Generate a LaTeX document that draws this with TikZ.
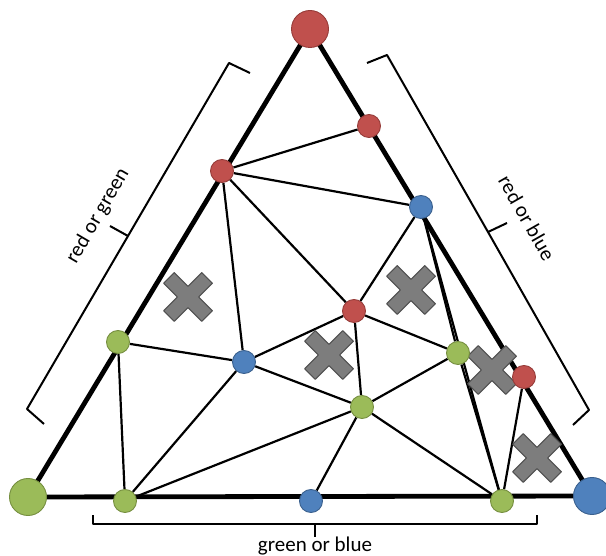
\documentclass[tikz,border=0pt]{standalone}
\usepackage{fontspec}
\setmainfont{Carlito}
\pgfdeclarelayer{bg}
\pgfsetlayers{bg,main}
\definecolor{nred}{RGB}{192,80,77}
\definecolor{nredd}{RGB}{150,60,57}
\definecolor{ngreen}{RGB}{155,187,89}
\definecolor{ngreend}{RGB}{118,143,64}
\definecolor{nblue}{RGB}{79,129,189}
\definecolor{nblued}{RGB}{58,96,142}
\definecolor{xfill}{RGB}{125,125,125}
\definecolor{xline}{RGB}{80,80,80}
\begin{document}
\begin{tikzpicture}[x=1pt,y=-1pt,
  dot/.style={circle,inner sep=0pt,line width=0.9pt},
  bigdot/.style={dot,minimum size=37pt},
  smalldot/.style={dot,minimum size=23pt},
  rd/.style={fill=nred,draw=nredd},
  gr/.style={fill=ngreen,draw=ngreend},
  bl/.style={fill=nblue,draw=nblued},
  thin edge/.style={line width=2.2pt},
  side/.style={line width=4.8pt},
  bracket/.style={line width=2pt,line join=round},
  lab/.style={font=\fontsize{21}{24}\selectfont,inner sep=0pt},
  xcross/.pic={\draw[fill=xfill,draw=xline,line width=1pt,line join=round,rotate=45]
    (7.5,27) -- (7.5,7.5) -- (27,7.5) -- (27,-7.5) -- (7.5,-7.5) -- (7.5,-27)
    -- (-7.5,-27) -- (-7.5,-7.5) -- (-27,-7.5) -- (-27,7.5) -- (-7.5,7.5) -- (-7.5,27) -- cycle;}
]
\useasboundingbox (0,0) rectangle (606,556);

% crosses
\pic at (188,297) {xcross};
\pic at (329,355) {xcross};
\pic at (411,290) {xcross};
\pic at (492,370) {xcross};
\pic at (537,458) {xcross};

% nodes
\node[bigdot,rd] (T) at (310,29) {};
\node[bigdot,gr] (GL) at (28,497) {};
\node[bigdot,bl] (BR) at (592,496) {};
\node[smalldot,rd] (R1) at (369,126) {};
\node[smalldot,rd] (R2) at (222,171) {};
\node[smalldot,bl] (B1) at (421,207) {};
\node[smalldot,rd] (R3) at (354,311) {};
\node[smalldot,bl] (B2) at (244,362) {};
\node[smalldot,gr] (G1) at (118,342) {};
\node[smalldot,gr] (G2) at (458,353) {};
\node[smalldot,rd] (R4) at (524,377) {};
\node[smalldot,gr] (G3) at (362,407) {};
\node[smalldot,gr] (G4) at (125,501) {};
\node[smalldot,bl] (B3) at (311,501) {};
\node[smalldot,gr] (G5) at (502,501) {};

% labels
\node[lab,rotate=59.7] (lgL) at (98,216) {red or green};
\node[lab,rotate=-60.4] (lgR) at (527,218) {red or blue};
\node[lab] (lgB) at (315,546) {green or blue};

% braces
\draw[bracket] (250,73) -- (229,63) -- (128,236) -- (110,226);
\draw[bracket] (128,236) -- (27,409) -- (44,424);
\draw[bracket] (367,63) -- (387,55) -- (488,232) -- (507,223);
\draw[bracket] (488,232) -- (589,410) -- (573,425);
\draw[bracket] (93,515) -- (93,524) -- (537,524) -- (537,515);
\draw[bracket] (315,524) -- (315,537);

\begin{pgfonlayer}{bg}
\draw[side] (T.center) -- (GL.center) -- (BR.center) -- cycle;
\foreach \a/\b in {R1/R2,R2/B1,R2/B2,R2/R3,B1/R3,B1/G2,R3/G2,R3/B2,R3/G3,
  G1/B2,G1/G4,B2/G3,B2/G4,G3/G4,G3/G2,G3/B3,G3/G5,G2/G5,R4/G5}
  \draw[thin edge] (\a) -- (\b);
\draw[thin edge] (B1.center) -- ([xshift=3pt]G2.center) -- (G5.center);
\end{pgfonlayer}
\end{tikzpicture}
\end{document}
